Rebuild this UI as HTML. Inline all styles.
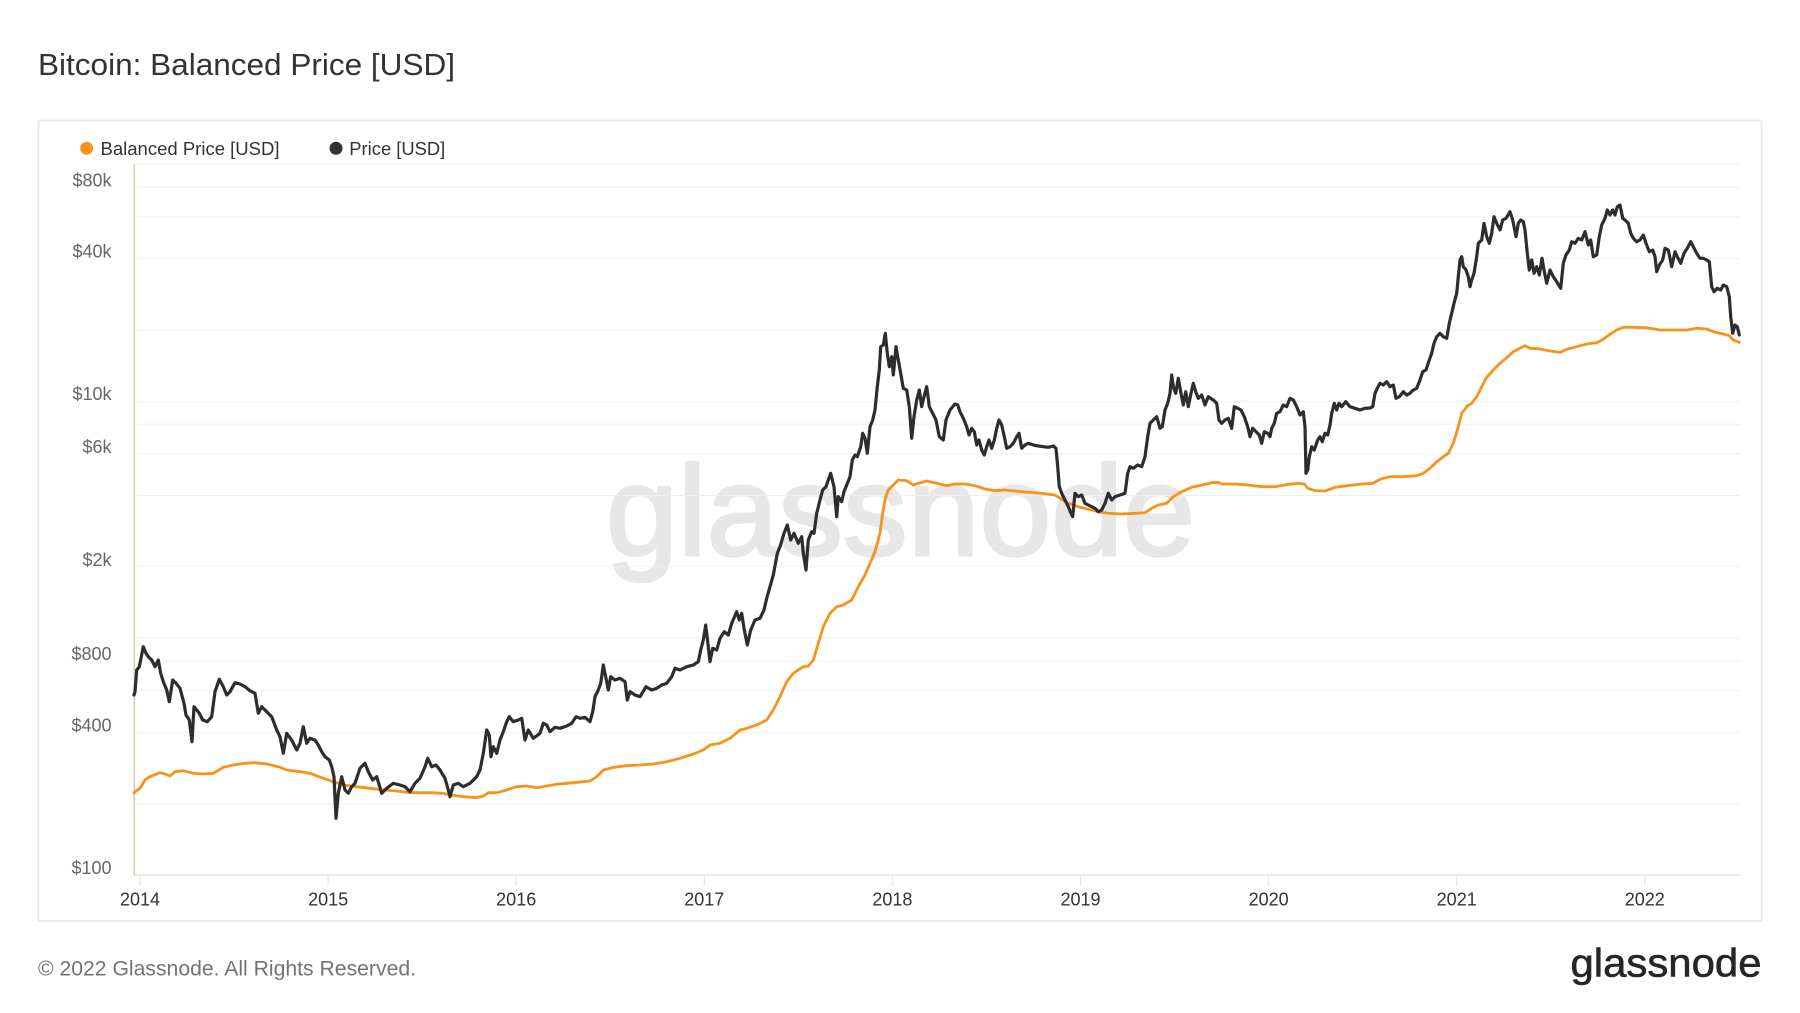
<!DOCTYPE html>
<html>
<head>
<meta charset="utf-8">
<style>
html,body{margin:0;padding:0;background:#fff;}
svg{display:block;}
text{font-family:"Liberation Sans",Arial,sans-serif;}
</style>
</head>
<body>
<svg width="1800" height="1013" viewBox="0 0 1800 1013" xmlns="http://www.w3.org/2000/svg">
<rect x="0" y="0" width="1800" height="1013" fill="#ffffff"/>
<text x="38" y="75" font-size="31" fill="#333333" textLength="417" lengthAdjust="spacingAndGlyphs">Bitcoin: Balanced Price [USD]</text>
<rect x="38.5" y="120.5" width="1723" height="800.5" fill="none" stroke="#e6e6e6" stroke-width="1.5"/>
<circle cx="86.7" cy="148.3" r="6.5" fill="#f7931a"/>
<text x="100.5" y="155" font-size="18.5" fill="#333333" textLength="179" lengthAdjust="spacingAndGlyphs">Balanced Price [USD]</text>
<circle cx="336" cy="148.3" r="6.5" fill="#333333"/>
<text x="349.3" y="155" font-size="18.5" fill="#333333" textLength="96" lengthAdjust="spacingAndGlyphs">Price [USD]</text>
<!-- watermark -->
<text x="606" y="555" font-size="128" fill="#e7e7e7" stroke="#e7e7e7" stroke-width="3" textLength="589" lengthAdjust="spacingAndGlyphs">glassnode</text>
<!-- gridlines -->
<g stroke="#efefef" stroke-width="1">
<line x1="134" y1="164.3" x2="1740" y2="164.3"/>
<line x1="134" y1="187.3" x2="1740" y2="187.3"/>
<line x1="134" y1="216.9" x2="1740" y2="216.9"/>
<line x1="134" y1="258.6" x2="1740" y2="258.6"/>
<line x1="134" y1="329.9" x2="1740" y2="329.9"/>
<line x1="134" y1="401.2" x2="1740" y2="401.2"/>
<line x1="134" y1="424.2" x2="1740" y2="424.2"/>
<line x1="134" y1="453.8" x2="1740" y2="453.8"/>
<line x1="134" y1="495.5" x2="1740" y2="495.5"/>
<line x1="134" y1="566.8" x2="1740" y2="566.8"/>
<line x1="134" y1="638.1" x2="1740" y2="638.1"/>
<line x1="134" y1="661.1" x2="1740" y2="661.1"/>
<line x1="134" y1="690.7" x2="1740" y2="690.7"/>
<line x1="134" y1="732.4" x2="1740" y2="732.4"/>
<line x1="134" y1="803.7" x2="1740" y2="803.7"/>
</g>
<line x1="134" y1="875" x2="1740" y2="875" stroke="#e3e3e3" stroke-width="1.5"/>
<line x1="134.3" y1="164.5" x2="134.3" y2="875" stroke="#d8cab2" stroke-width="1.5"/>
<!-- x ticks -->
<g stroke="#e3e3e3" stroke-width="1">
<line x1="140" y1="875" x2="140" y2="886"/>
<line x1="328.1" y1="875" x2="328.1" y2="886"/>
<line x1="516.2" y1="875" x2="516.2" y2="886"/>
<line x1="704.3" y1="875" x2="704.3" y2="886"/>
<line x1="892.4" y1="875" x2="892.4" y2="886"/>
<line x1="1080.5" y1="875" x2="1080.5" y2="886"/>
<line x1="1268.6" y1="875" x2="1268.6" y2="886"/>
<line x1="1456.7" y1="875" x2="1456.7" y2="886"/>
<line x1="1644.8" y1="875" x2="1644.8" y2="886"/>
</g>
<!-- y labels -->
<g font-size="18" fill="#666666" text-anchor="end">
<text x="111.5" y="186.3">$80k</text>
<text x="111.5" y="257.6">$40k</text>
<text x="111.5" y="400.2">$10k</text>
<text x="111.5" y="452.8">$6k</text>
<text x="111.5" y="565.8">$2k</text>
<text x="111.5" y="660.1">$800</text>
<text x="111.5" y="731.4">$400</text>
<text x="111.5" y="874">$100</text>
</g>
<!-- x labels -->
<g font-size="18" fill="#333333" text-anchor="middle">
<text x="140" y="905.5">2014</text>
<text x="328.1" y="905.5">2015</text>
<text x="516.2" y="905.5">2016</text>
<text x="704.3" y="905.5">2017</text>
<text x="892.4" y="905.5">2018</text>
<text x="1080.5" y="905.5">2019</text>
<text x="1268.6" y="905.5">2020</text>
<text x="1456.7" y="905.5">2021</text>
<text x="1644.8" y="905.5">2022</text>
</g>
<!-- Balanced price -->
<polyline fill="none" stroke="#f7931a" stroke-width="2.8" stroke-linejoin="round" stroke-linecap="round" points="134,793 135,791.7 140,788.3 145,780 150,776.7 160,772.7 165,774 170,776 175,771.7 183.3,770.7 193.3,773.3 203.3,774 213.3,773.3 223.3,767.3 233.3,765 245,763.3 255,762.7 266.7,764 278.3,766.7 286.7,770 300,771.7 310,773.3 323.3,778.3 333.3,781.7 343.3,785 356.7,786.7 370,788.3 383.3,790 396.7,791 410,792.7 430,792.7 443.3,793.3 450,795 463.3,796.7 476.7,797.7 483.3,796 488.3,792.7 496.7,792.7 506.7,790 516.7,786.7 526.7,786 536.7,787.7 546.7,786 556.7,784.3 573.3,782.7 590,781 596.7,776.7 603.3,770 613.3,767.3 626.7,765.7 640,765 653.3,764 666.7,761.7 680,758.3 693.3,754 703.3,750 710,745 720,743.3 730,738.3 740,730 746.7,728.3 756.7,725 766.7,720 773.3,710 780,696.7 786.7,681.7 793.3,673.3 803.3,666.7 808.3,666 813.3,660 818.3,643.3 823.3,626.7 830,613.3 836.7,606.7 843.3,605 851.7,600 858.3,586.7 865,575 870,563.3 875,551.7 880,533.3 882.7,513.3 885,500 888.3,490 893.3,485 898.3,480 906.7,480.7 913.3,485 918.3,483.3 926.7,481 936.7,483.3 946.7,485.7 955,484 965,484 975,485.7 985,489 995,490.7 1005,490 1015,491 1028.3,492.3 1041.7,493.3 1055,495 1061.7,499.3 1068.3,503.3 1078.3,506.7 1088.3,509.3 1098.3,511.7 1108.3,513.3 1121.7,514 1135,513.3 1145,512.7 1151.7,508.3 1158.3,505 1166.7,503.3 1173.3,496.7 1181.7,491.7 1191.7,487.3 1201.7,485 1211.7,482.7 1218.3,482.3 1221.7,484 1235,484 1248.3,485 1261.7,486.7 1275,486.7 1288.3,484.3 1298.3,483.3 1304.3,484 1307.7,488.3 1315,490.7 1325,491 1335,487.3 1348.3,485.7 1361.7,484 1372.7,483.3 1380,479.3 1390,476.7 1403.3,476.7 1416.7,475.7 1423.3,473.3 1430,468.3 1436.7,461.7 1443.3,456.7 1448.3,453.3 1453.3,443.3 1458.3,426.7 1461.7,413.3 1466.7,406.7 1471.7,403.3 1476.7,396.7 1481.7,386.7 1486.7,377.3 1493.3,370 1500,363.3 1506.7,357.7 1513.3,351.7 1520,348.3 1525,345.7 1530,348.3 1540,349 1550,351 1560,352.3 1566.7,349.3 1576.7,346.7 1586.7,344 1596.7,342.7 1603.3,339.3 1610,334.3 1616.7,330 1623.3,327.3 1633.3,327.3 1646.7,327.7 1660,330 1673.3,330 1686.7,330 1696.7,328.3 1706.7,329 1713.3,331.7 1723.3,334 1729.3,335.7 1733.3,340 1739.3,342.3"/>
<!-- Price -->
<polyline fill="none" stroke="#2d2d2d" stroke-width="3.2" stroke-linejoin="round" stroke-linecap="round" points="134,695 135,691.7 136.7,670 139.3,666.7 143.3,646.7 146,653.3 148.3,656.7 151.7,660 155,666.7 158.3,660 160.7,673.3 163.3,681.7 166.7,690 169.3,701.7 172.7,680 176,683.3 180,688.3 184,703.3 186,715 189.3,720 192,741.7 194,706.7 196.7,710 199.3,713.3 202.7,720 207.3,721.7 211.7,716.7 215,691.7 219.3,679.3 223.3,686.7 226.7,695 230,691.7 235,682.7 240,684 245,686.7 250,690.7 255,693.3 258.3,713.3 261.7,706.7 266.7,711.7 271.7,716.7 276.7,730 280,736.7 283.3,753.3 286.7,733.3 291.7,740 296.7,750 300,743.3 303.3,726.7 306.7,743.3 310,738.3 315,740 318.3,745 321.7,751.7 325,756.7 329.3,760 331.7,766.7 334,776.7 336,818.3 338.3,793.3 341.7,776.7 345,790 348.3,793.3 351.7,786.7 355,783.3 360,768.3 365,763.3 368.3,771.7 372.7,780 376.7,776.7 381.7,793.3 386.7,788.3 393.3,783.3 400,785 405,786.7 410,791.7 415,783.3 420,778.3 425,766.7 427.7,758.3 431.7,766.7 436,765 440,770 445,778.3 448.3,790 450,796.7 453.3,785 458.3,783.3 463.3,786.7 470,783.3 476.7,776.7 480,770 483.3,753.3 486.7,730 489.3,735 491,756.7 493.3,746.7 496.7,753.3 500,740 503.3,731.7 506.7,721.7 509.3,716.7 513.3,721.7 518.3,720 521.7,718.3 525,740 528.3,730 533.3,738.3 540,733.3 543.3,723.3 546.7,725 550,731.7 555,727.3 560,728.3 566.7,726 571.7,723.3 576,716.7 580,718.3 585,717.3 590,721.7 592.7,711.7 595,696.7 598.3,690 600.7,683.3 603.3,665 606,678.3 608.3,690 610.7,676.7 615,680 620,678.3 625,681.7 627.3,700 630,691.7 635,695 640,696.7 646,686.7 651.7,690 656.7,688.3 661.7,685 666.7,683.3 671.7,676.7 675,668.3 680,670 686.7,666.7 693.3,665 698.3,661.7 700.7,650 703.3,640 705.7,625 707.7,641.7 710,661.7 712.7,648.3 716.7,650 720,638.3 724.3,631.7 728.3,635 731.7,623.3 736.7,611.7 739.3,620 741.7,613.3 744,628.3 747.3,645 750.7,630 755,620 760,618.3 764,610 766.7,598.3 770,586.7 773.3,575 777.3,553.3 780,546.7 784,533.3 787.3,525 790.7,540 794,533.3 798.3,543.3 801.7,536.7 803.3,553.3 806,570 808.3,540 811.7,531.7 814,533.3 816.7,513.3 820,500 822.7,490 826,486.7 828.3,480 830.7,473.3 834,486.7 836.7,516.7 838.3,496.7 841.7,501.7 844,491.7 846.7,485 850,476.7 852.3,460 855,455 857.3,456.7 860.7,446.7 862.7,433.3 865,438.3 867.3,453.3 870,426.7 872.7,420 875,410 877.3,386.7 879.3,370 880.7,346.7 883.3,345 885.3,333.3 887.3,353.3 889.3,366.7 891.7,356.7 893.3,375 896,346.7 898.3,360 900.7,373.3 903.3,388.3 906.7,390 909.3,406.7 911.7,438.3 914,416.7 916.7,400 919.3,390 921.7,406.7 924,396.7 926.7,386.7 929.3,406.7 932.7,413.3 936,420 939.3,436.7 943.3,440 946,420 950,410 955,404 957.7,405 960,411.7 963.3,418.3 966.7,426.7 969,435 971.7,428.3 974.3,431.7 976.7,445 979,440 981.7,450 984.3,455 986.7,446.7 989,440 991.7,448.3 994.3,440 996.7,428.3 999,420 1001.7,425 1004.3,436.7 1006.7,448.3 1010,446.7 1013.3,443.3 1016.7,436.7 1019,433.3 1021.7,448.3 1025,445 1028.3,443.3 1033.3,445 1038.3,446 1043.3,446.7 1048.3,447.3 1053.3,446 1056,448.3 1057.7,466.7 1059.3,486.7 1061.7,493.3 1065,500 1068.3,506.7 1071,513.3 1072.7,516.7 1075,493.3 1078.3,496.7 1081.7,495 1085,503.3 1088.3,505 1091.7,506.7 1095,508.3 1098.3,511.7 1101.7,510 1105,503.3 1108.3,493.3 1111.7,500 1115,496.7 1120,495 1125,493.3 1127.7,473.3 1130,466.7 1133.3,468.3 1137.7,465 1141.7,466.7 1145,456.7 1147.7,436.7 1150,423.3 1153.3,420 1156.7,416.7 1160,428.3 1162.3,426.7 1165,410 1167.7,403.3 1170,393.3 1171.7,375 1173.3,386.7 1175.7,393.3 1178.3,378.3 1181,393.3 1183.3,405 1185.7,391.7 1188.3,406.7 1191,393.3 1193.3,383.3 1195.7,391.7 1198.3,398.3 1201.7,395 1205,405 1208.3,396.7 1213.3,400 1216.7,403.3 1219,420 1221.7,423.3 1225,420 1228.3,418.3 1231.7,428.3 1234.3,406.7 1237.7,408.3 1241,410 1244.3,416.7 1247.7,426.7 1250,436.7 1252.7,428.3 1256,431.7 1259.3,435 1261.7,443.3 1264.3,431.7 1267.7,433.3 1270,436.7 1271.7,428.3 1274.3,423.3 1276.7,413.3 1280,411.7 1283.3,405 1286.7,406.7 1290,398.3 1293.3,400 1296.7,406.7 1300,415 1303.3,411.7 1305,426.7 1306,473.3 1307.7,470 1309.3,456.7 1311.7,446.7 1314.3,450 1317.7,440 1320,436.7 1322.3,441.7 1325,433.3 1327.7,435 1330,425 1331.7,413.3 1334.3,403.3 1336.7,410 1339,403.3 1341.7,406.7 1345.7,401.7 1350,406.7 1355,408.3 1360,410 1365,408.3 1370,408 1372.7,406.7 1375,393.3 1377.3,388.3 1380,383.3 1383.3,385 1386.7,381.7 1390,386.7 1393.3,385 1396,398.3 1399.3,396.7 1403.3,391.7 1406.7,395 1410,393.3 1413.3,390 1416.7,388.3 1420,380 1422.7,371.7 1426,370 1429.3,360 1431.7,353.3 1434,343.3 1436.7,336.7 1440,333.3 1443.3,336.7 1446.7,338.3 1449.3,323.3 1451.7,313.3 1454,303.3 1456.7,293.3 1458.3,276.7 1460,260 1461.7,256.7 1463.3,266.7 1466,270 1468.3,276.7 1470,286.7 1471.7,280 1474,273.3 1476.7,256.7 1478.3,243.3 1481.7,240 1484,223.3 1486.7,236.7 1489.3,243.3 1491.7,233.3 1494,216.7 1496.7,223.3 1500,230 1502.7,220 1506,218.3 1510,211.7 1512.7,220 1516,236.7 1518.3,223.3 1520.7,220 1523.3,221.7 1525,230 1527.3,253.3 1529.3,270 1531.7,260 1534,273.3 1536.7,266.7 1539.3,275 1542,258.3 1544,270 1546.7,283.3 1550,270 1553.3,276.7 1556.7,281.7 1560.7,288.3 1563.3,263.3 1566,255 1569.3,250 1571.7,241.7 1575,243.3 1578.3,238.3 1581.7,240 1585,231.7 1588.3,245 1590.7,240 1593.3,256.7 1596.7,255 1599.3,236.7 1601.7,225 1605,218.3 1607.3,210 1610,215 1612.7,210 1615,215 1617.3,206.7 1620,205 1622.7,218.3 1625,220 1628.3,223.3 1630.7,233.3 1633.3,238.3 1636.7,241.7 1640,240 1643.3,235 1646,243.3 1649.3,251.7 1652.7,250 1655,256.7 1656.7,271.7 1659.3,265 1662.7,260 1665,248.3 1668.3,250 1671.7,266.7 1675,251.7 1677.3,256.7 1680.7,263.3 1684,253.3 1687.3,248.3 1690.7,241.7 1693.3,246.7 1696.7,253.3 1700,258.3 1703.3,258.3 1706.7,260 1709.3,261.7 1711.7,286.7 1714,291.7 1717.3,288.3 1720.7,290 1723.3,285 1726.7,286.7 1729.3,296.7 1730.7,316.7 1732.7,333.3 1735,325 1737.3,326.7 1739.3,335"/>
<!-- footer -->
<text x="38" y="975.7" font-size="21" fill="#737373" textLength="378" lengthAdjust="spacingAndGlyphs">© 2022 Glassnode. All Rights Reserved.</text>
<text x="1570.5" y="976.7" font-size="40" fill="#262626" stroke="#262626" stroke-width="0.6" textLength="191" lengthAdjust="spacingAndGlyphs">glassnode</text>
</svg>
</body>
</html>
